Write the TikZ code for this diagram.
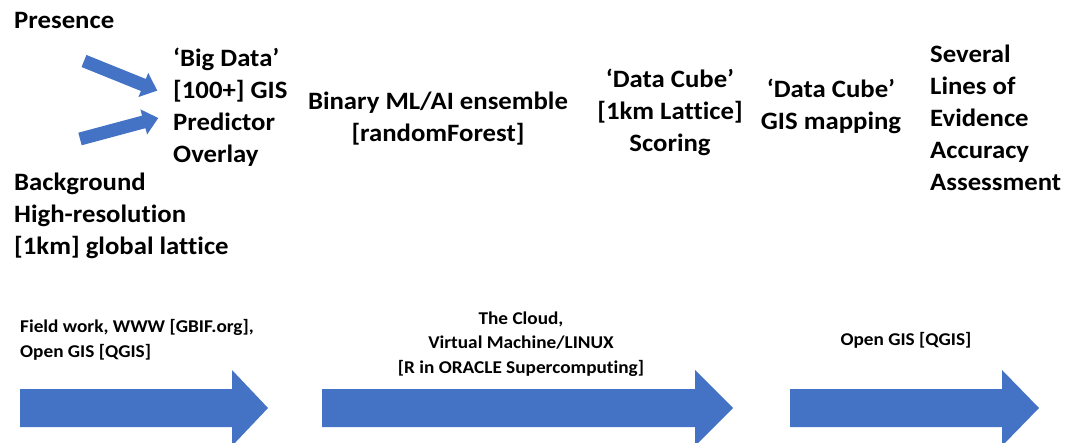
\documentclass[tikz,border=0pt]{standalone}
\usepackage{fontspec}
\setmainfont{Carlito}[FakeStretch=1.07,Ligatures=NoCommon]
\usetikzlibrary{positioning}
\definecolor{flowblue}{HTML}{4472C4}
\tikzset{
    stage/.style={font=\bfseries\fontsize{25}{32}\selectfont,inner sep=0pt},
    tool/.style={font=\bfseries\fontsize{18}{24.5}\selectfont,inner sep=0pt},
    % block arrow: {length}{half shaft}{half head}{head length}
    pics/blockarrow/.style n args={4}{code={
        \fill[flowblue] (0,-#2) -- ({#1-#4},-#2) -- ({#1-#4},-#3) -- (#1,0)
            -- ({#1-#4},#3) -- ({#1-#4},#2) -- (0,#2) -- cycle;
    }},
}

\begin{document}
\begin{tikzpicture}[x=1pt,y=-1pt]
    \path[use as bounding box,clip] (0,0) rectangle (1078,443);

    % workflow stages
    \node[stage,anchor=west] (pres) at (14,20) {Presence};
    \node[stage,anchor=west,align=left] (bigdata) at (173,107) {‘Big Data’\\ {[100+]} GIS\\ Predictor\\ Overlay};
    \node[stage,anchor=west,align=left] (backgr) at (14,216) {Background\\ High-resolution\\ {[1km]} global lattice};
    \node[stage,align=center] (model) at (438,119) {Binary ML/AI ensemble\\ {[randomForest]}};
    \node[stage,align=center] (score) at (670,112) {‘Data Cube’\\ {[1km Lattice]}\\ Scoring};
    \node[stage,align=center] (mapping) at (831,106) {‘Data Cube’\\ GIS mapping};
    \node[stage,anchor=west,align=left] (accur) at (930,118) {Several\\ Lines of\\ Evidence\\ Accuracy\\ Assessment};

    % inputs into the overlay
    \pic[rotate=-22] at (84,61) {blockarrow={79}{6.5}{13}{15}};
    \pic[rotate=15] at (80,139) {blockarrow={81}{6.5}{13}{15}};

    % tools along the bottom
    \node[tool,anchor=west,align=left] (field) at (20,340) {Field work, WWW {[GBIF.org]},\\ Open GIS {[QGIS]}};
    \node[tool,align=center] (cloud) at (521,344) {The Cloud,\\ Virtual Machine/LINUX\\ {[R in ORACLE Supercomputing]}};
    \node[tool] (qgis) at (906,340) {Open GIS {[QGIS]}};

    \pic at (20,408) {blockarrow={248}{19}{38}{36}};
    \pic at (322,408) {blockarrow={411}{19}{38}{38}};
    \pic at (790,408) {blockarrow={249}{19}{38}{37}};
\end{tikzpicture}
\end{document}
